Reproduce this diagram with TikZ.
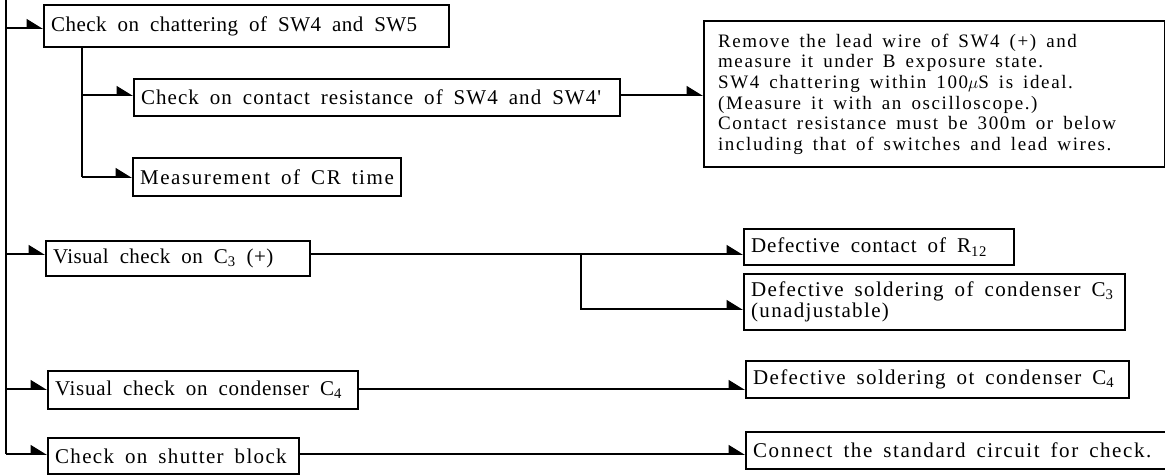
\documentclass[tikz,border=0pt]{standalone}
\usepackage{fontspec}
\setmainfont{Liberation Serif}
\newfontfamily\boxfont{Liberation Serif}
\newcommand\wordgap[1]{\spaceskip=#1 plus 2pt minus 1pt\relax}
\usetikzlibrary{arrows.meta}
\begin{document}
\begin{tikzpicture}[x=1pt,y=-1pt,
  box/.style={draw, line width=2.2pt, rectangle, anchor=north west,
    inner xsep=7pt, inner ysep=0pt, align=flush left},
  ls/.style={font={\boxfont\fontsize{21}{21}\selectfont
    \addfontfeature{LetterSpace=#1}\wordgap{11pt}}},
  notebox/.style={box, inner xsep=14pt,
    font={\boxfont\fontsize{19}{20.6}\selectfont
    \addfontfeature{LetterSpace=8.5}\wordgap{10pt}}},
  wire/.style={line width=1.8pt},
  arr/.style={wire, -{Triangle[harpoon, length=15pt, width=18pt]}},
]
\useasboundingbox (0,0) rectangle (1165,476);

% boxes of the left column
\node[box, ls=2.2, minimum width=403pt, text width=391pt, minimum height=42pt] (chat) at (43,4)
  {Check on chattering of SW4 and SW5};
\node[box, ls=5, minimum width=484pt, text width=472pt, minimum height=37pt] (cont) at (133,78)
  {Check on contact resistance of SW4 and SW4'};
\node[box, ls=7.5, minimum width=266pt, text width=254pt, minimum height=38pt] (crt) at (132,157)
  {Measurement of CR time};
\node[box, ls=2, minimum width=262pt, text width=250pt, minimum height=35pt] (vc3) at (45,240)
  {Visual check on C\textsubscript{3} (+)};
\node[box, ls=3.3, minimum width=308pt, text width=296pt, minimum height=38pt] (vc4) at (47,370)
  {Visual check on condenser C\textsubscript{4}};
\node[box, ls=6.4, minimum width=249pt, text width=237pt, minimum height=36pt] (shut) at (47,437)
  {Check on shutter block};

% boxes of the right column
\node[notebox, minimum width=459pt, text width=433pt, minimum height=146pt] (note) at (703,20)
  {Remove the lead wire of SW4 (+) and\\
   measure it under B exposure state.\\
   SW4 chattering within 100$\mu$S is ideal.\\
   (Measure it with an oscilloscope.)\\
   Contact resistance must be 300m or below\\
   including that of switches and lead wires.};
\node[box, ls=4.2, minimum width=268pt, text width=256pt, minimum height=36pt] (r12) at (743,228)
  {Defective contact of R\textsubscript{12}};
\node[box, ls=6.5, minimum width=379pt, text width=367pt, minimum height=56pt] (sol3) at (743,273)
  {Defective soldering of condenser C\textsubscript{3}\\(unadjustable)};
\node[box, ls=6.5, minimum width=381pt, text width=369pt, minimum height=37pt] (sol4) at (745,360)
  {Defective soldering ot condenser C\textsubscript{4}};
\node[box, ls=7.5, minimum width=417pt, text width=407pt, minimum height=37pt] (std) at (745,431)
  {Connect the standard circuit for check.};

% main trunk and its taps
\coordinate (top) at (6,0);
\coordinate (t1) at (6,28);
\coordinate (t2) at (6,254);
\coordinate (t3) at (6,389);
\coordinate (t4) at (6,454);
\draw[wire] (top) -- (t4);
\draw[arr] (t1) -- (t1 -| chat.west);
\draw[arr] (t2) -- (t2 -| vc3.west);
\draw[arr] (t3) -- (t3 -| vc4.west);
\draw[arr] (t4) -- (t4 -| shut.west);

% sub-branch under the chattering check
\coordinate (s0) at (82,0 |- chat.south);
\coordinate (s1) at (82,95);
\coordinate (s2) at (82,177);
\draw[wire] (s0) -- (s2);
\draw[arr] (s1) -- (s1 -| cont.west);
\draw[arr] (s2) -- (s2 -| crt.west);

% connectors to the right column
\coordinate (b1) at (0,95);
\draw[arr] (b1 -| cont.east) -- (b1 -| note.west);
\draw[arr] (t2 -| vc3.east) -- (t2 -| r12.west);
\coordinate (k0) at (581,254);
\coordinate (k1) at (581,309);
\draw[arr] (k0) -- (k1) -- (k1 -| sol3.west);
\draw[arr] (t3 -| vc4.east) -- (t3 -| sol4.west);
\draw[arr] (t4 -| shut.east) -- (t4 -| std.west);
\end{tikzpicture}
\end{document}
